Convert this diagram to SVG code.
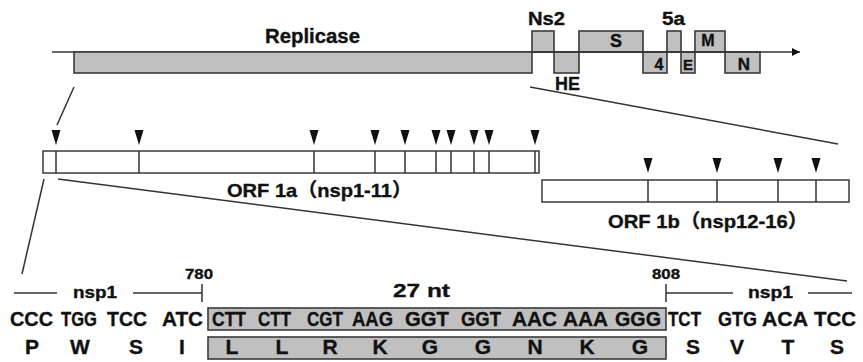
<svg xmlns="http://www.w3.org/2000/svg" width="863" height="362" viewBox="0 0 863 362">
<defs>
<style>
text{font-family:"Liberation Sans","Noto Sans CJK SC",Arial,sans-serif;font-weight:bold;fill:#111;stroke:#111;stroke-width:0.35;}
.gbox{fill:#c0c0c0;stroke:#3a3a3a;stroke-width:1.6;}
.wbox{fill:#fff;stroke:#3a3a3a;stroke-width:1.5;}
.ln{stroke:#333;stroke-width:1.5;fill:none;}
.div{stroke:#333;stroke-width:1.5;}
.tri{fill:#111;}
.lbl{font-size:18px;}
.cod{font-size:21px;}
.seq{font-size:21px;text-anchor:middle;}
.mid{text-anchor:middle;}
.num{font-size:14px;}
</style>
<marker id="ah" viewBox="0 0 10 10" refX="10" refY="5" markerWidth="9" markerHeight="8" markerUnits="userSpaceOnUse" orient="auto">
<path d="M0,0 L10,5 L0,10 z" fill="#111"/>
</marker>
</defs>

<g id="connectors">
<line class="ln" x1="52" y1="52" x2="800" y2="52" marker-end="url(#ah)"/>
<line class="ln" x1="74" y1="87" x2="57" y2="125"/>
<line class="ln" x1="530" y1="87" x2="838" y2="144"/>
<line class="ln" x1="44" y1="179" x2="22" y2="274"/>
<line class="ln" x1="58" y1="179" x2="847" y2="281"/>
</g>

<g id="genome">
<rect id="replicase" class="gbox" x="74" y="52" width="458" height="21"/>
<rect id="ns2" class="gbox" x="532" y="31" width="22" height="21"/>
<rect id="he" class="gbox" x="554" y="52" width="25" height="21"/>
<rect id="s" class="gbox" x="579" y="31" width="64" height="21"/>
<rect id="g4" class="gbox" x="643" y="52" width="24" height="21"/>
<rect id="g5a" class="gbox" x="667" y="31" width="14" height="21"/>
<rect id="e" class="gbox" x="681" y="52" width="14" height="21"/>
<rect id="m" class="gbox" x="695" y="31" width="30" height="21"/>
<rect id="n" class="gbox" x="725" y="52" width="35" height="21"/>
<line class="ln" x1="532" y1="52" x2="760" y2="52"/>
<text x="265" y="43" font-size="20" textLength="95" lengthAdjust="spacingAndGlyphs">Replicase</text>
<text class="lbl" x="528" y="25" textLength="37" lengthAdjust="spacingAndGlyphs">Ns2</text>
<text class="lbl" x="555" y="90" textLength="25" lengthAdjust="spacingAndGlyphs">HE</text>
<text class="lbl mid" x="616" y="47">S</text>
<text class="lbl" x="662" y="25" textLength="23" lengthAdjust="spacingAndGlyphs">5a</text>
<text class="mid" x="659" y="70" font-size="16">4</text>
<text class="mid" x="688" y="70" font-size="15">E</text>
<text class="mid" x="708" y="46" font-size="16">M</text>
<text class="mid" x="744" y="70" font-size="17">N</text>
</g>

<g id="orf1a">
<rect class="wbox" x="43" y="151" width="496" height="22"/>
<g class="div">
<line x1="56" y1="151" x2="56" y2="173"/>
<line x1="139" y1="151" x2="139" y2="173"/>
<line x1="314" y1="151" x2="314" y2="173"/>
<line x1="375" y1="151" x2="375" y2="173"/>
<line x1="405" y1="151" x2="405" y2="173"/>
<line x1="436" y1="151" x2="436" y2="173"/>
<line x1="451" y1="151" x2="451" y2="173"/>
<line x1="474" y1="151" x2="474" y2="173"/>
<line x1="489" y1="151" x2="489" y2="173"/>
<line x1="535" y1="151" x2="535" y2="173"/>
</g>
<g class="tri">
<path d="M51.5,130 h9 l-4.5,15 z"/>
<path d="M134.5,130 h9 l-4.5,15 z"/>
<path d="M309.5,130 h9 l-4.5,15 z"/>
<path d="M370.5,130 h9 l-4.5,15 z"/>
<path d="M400.5,130 h9 l-4.5,15 z"/>
<path d="M431.5,130 h9 l-4.5,15 z"/>
<path d="M446.5,130 h9 l-4.5,15 z"/>
<path d="M469.5,130 h9 l-4.5,15 z"/>
<path d="M484.5,130 h9 l-4.5,15 z"/>
<path d="M530.5,130 h9 l-4.5,15 z"/>
</g>
<text x="227" y="197" font-size="19" textLength="185" lengthAdjust="spacingAndGlyphs">ORF 1a（nsp1-11）</text>
</g>

<g id="orf1b">
<rect class="wbox" x="542" y="180" width="307" height="22"/>
<g class="div">
<line x1="648" y1="180" x2="648" y2="202"/>
<line x1="717" y1="180" x2="717" y2="202"/>
<line x1="778" y1="180" x2="778" y2="202"/>
<line x1="816" y1="180" x2="816" y2="202"/>
</g>
<g class="tri">
<path d="M643.5,158 h9 l-4.5,15 z"/>
<path d="M712.5,158 h9 l-4.5,15 z"/>
<path d="M773.5,158 h9 l-4.5,15 z"/>
<path d="M811.5,158 h9 l-4.5,15 z"/>
</g>
<text x="608" y="228" font-size="19" textLength="200" lengthAdjust="spacingAndGlyphs">ORF 1b（nsp12-16）</text>
</g>

<g id="sequence">
<line class="ln" x1="14" y1="293" x2="57" y2="293"/>
<text x="73" y="298" font-size="16" textLength="44" lengthAdjust="spacingAndGlyphs">nsp1</text>
<line class="ln" x1="133" y1="293" x2="202" y2="293"/>
<line class="ln" x1="202" y1="284" x2="202" y2="302"/>
<text class="num" x="185" y="279" textLength="28" lengthAdjust="spacingAndGlyphs">780</text>
<text x="393" y="297" font-size="19" textLength="57" lengthAdjust="spacingAndGlyphs">27 nt</text>
<text class="num" x="652" y="279" textLength="28" lengthAdjust="spacingAndGlyphs">808</text>
<line class="ln" x1="666" y1="284" x2="666" y2="302"/>
<line class="ln" x1="666" y1="293" x2="733" y2="293"/>
<text x="748" y="298" font-size="16" textLength="45" lengthAdjust="spacingAndGlyphs">nsp1</text>
<line class="ln" x1="808" y1="293" x2="852" y2="293"/>

<rect class="gbox" x="208" y="308" width="458" height="22"/>
<rect class="gbox" x="208" y="337" width="458" height="22"/>

<text class="cod" x="10" y="326" textLength="43" lengthAdjust="spacingAndGlyphs">CCC</text>
<text class="cod" x="61" y="326" textLength="36" lengthAdjust="spacingAndGlyphs">TGG</text>
<text class="cod" x="107" y="326" textLength="40" lengthAdjust="spacingAndGlyphs">TCC</text>
<text class="cod" x="162" y="326" textLength="41" lengthAdjust="spacingAndGlyphs">ATC</text>
<text class="cod" x="212" y="326" textLength="34" lengthAdjust="spacingAndGlyphs">CTT</text>
<text class="cod" x="258" y="326" textLength="33" lengthAdjust="spacingAndGlyphs">CTT</text>
<text class="cod" x="307" y="326" textLength="36" lengthAdjust="spacingAndGlyphs">CGT</text>
<text class="cod" x="352" y="326" textLength="41" lengthAdjust="spacingAndGlyphs">AAG</text>
<text class="cod" x="405" y="326" textLength="44" lengthAdjust="spacingAndGlyphs">GGT</text>
<text class="cod" x="461" y="326" textLength="40" lengthAdjust="spacingAndGlyphs">GGT</text>
<text class="cod" x="512" y="326" textLength="45" lengthAdjust="spacingAndGlyphs">AAC</text>
<text class="cod" x="563" y="326" textLength="45" lengthAdjust="spacingAndGlyphs">AAA</text>
<text class="cod" x="615" y="326" textLength="46" lengthAdjust="spacingAndGlyphs">GGG</text>
<text class="cod" x="668" y="326" textLength="33" lengthAdjust="spacingAndGlyphs">TCT</text>
<text class="cod" x="718" y="326" textLength="39" lengthAdjust="spacingAndGlyphs">GTG</text>
<text class="cod" x="762" y="326" textLength="46" lengthAdjust="spacingAndGlyphs">ACA</text>
<text class="cod" x="814" y="326" textLength="42" lengthAdjust="spacingAndGlyphs">TCC</text>

<text class="seq" x="32" y="354">P</text>
<text class="seq" x="80" y="354">W</text>
<text class="seq" x="136" y="354">S</text>
<text class="seq" x="182" y="354">I</text>
<text class="seq" x="232" y="354">L</text>
<text class="seq" x="282" y="354">L</text>
<text class="seq" x="330" y="354">R</text>
<text class="seq" x="380" y="354">K</text>
<text class="seq" x="430" y="354">G</text>
<text class="seq" x="483" y="354">G</text>
<text class="seq" x="535" y="354">N</text>
<text class="seq" x="587" y="354">K</text>
<text class="seq" x="640" y="354">G</text>
<text class="seq" x="693" y="354">S</text>
<text class="seq" x="737" y="354">V</text>
<text class="seq" x="788" y="354">T</text>
<text class="seq" x="837" y="354">S</text>
</g>
</svg>
